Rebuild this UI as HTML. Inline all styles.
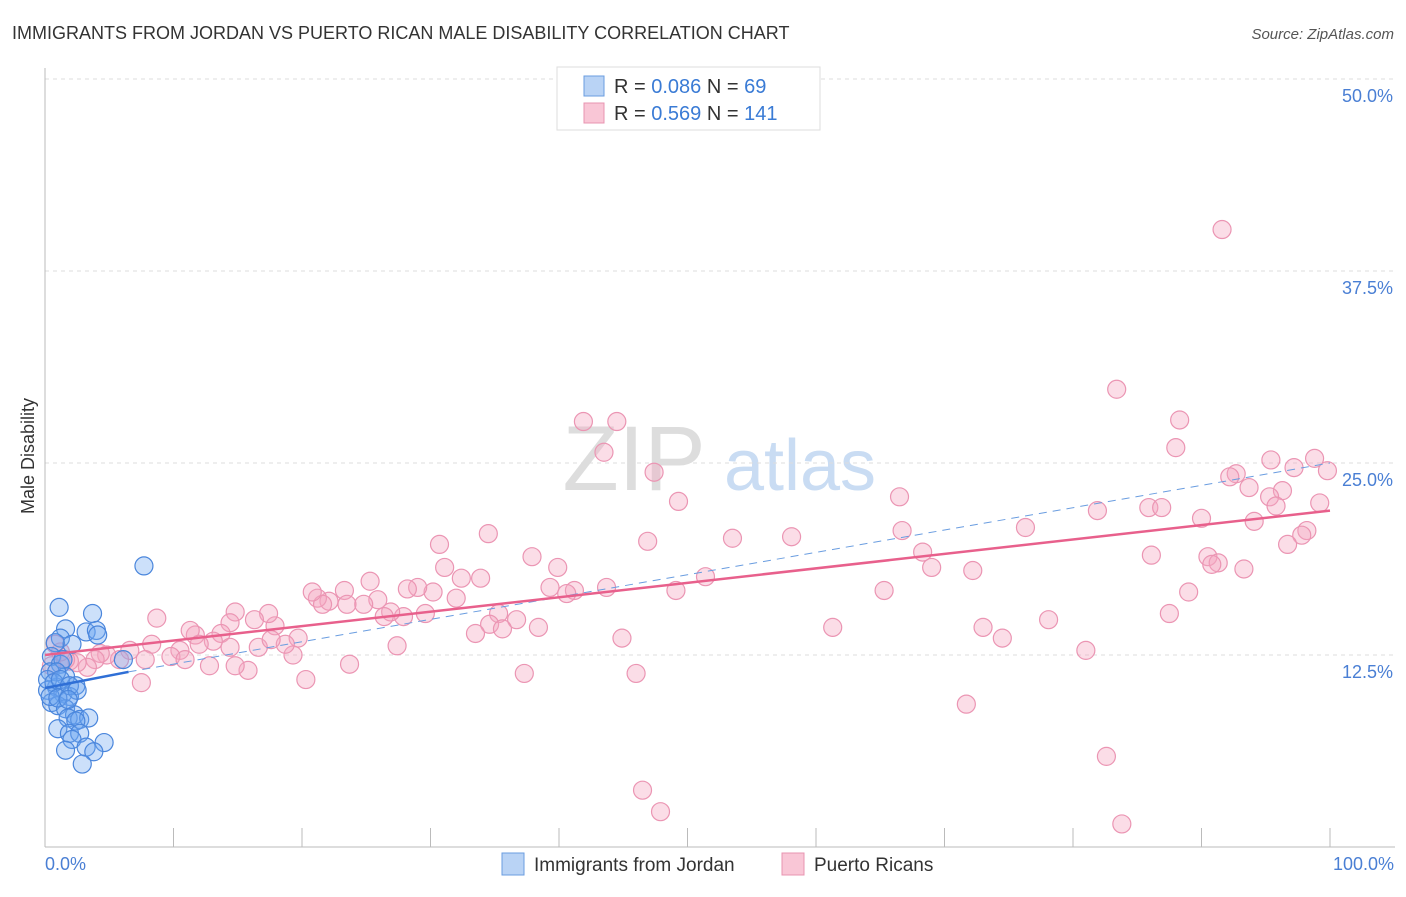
<!DOCTYPE html>
<html><head><meta charset="utf-8"><style>
body{margin:0;background:#fff;font-family:"Liberation Sans",sans-serif;}
svg text{font-family:"Liberation Sans",sans-serif;}
</style></head><body>
<svg id="chart" width="1406" height="892" xmlns="http://www.w3.org/2000/svg">
<text x="12" y="39" font-size="18" fill="#333">IMMIGRANTS FROM JORDAN VS PUERTO RICAN MALE DISABILITY CORRELATION CHART</text>
<text x="1394" y="39" font-size="15" fill="#555" font-style="italic" text-anchor="end">Source: ZipAtlas.com</text>
<text x="634" y="490" font-size="92" fill="#ddd" font-family="Liberation Serif" text-anchor="middle">ZIP</text>
<text x="800" y="490" font-size="72" fill="#c9dcf3" text-anchor="middle">atlas</text>
<g id="grid"></g>
<g id="axes"></g>
<g id="pts"></g>
<g id="lines"></g>
<text transform="translate(34,456) rotate(-90)" font-size="18" fill="#333" text-anchor="middle">Male Disability</text>
<text x="45" y="870" font-size="18" fill="#4a7fd4">0.0%</text>
<text x="1394" y="870" font-size="18" fill="#4a7fd4" text-anchor="end">100.0%</text>
<g>
<rect x="557" y="67" width="263" height="63" fill="#fff" stroke="#ddd"/>
<rect x="584" y="76" width="20" height="20" fill="#b9d3f5" stroke="#6a9de0"/>
<rect x="584" y="103" width="20" height="20" fill="#f9c6d6" stroke="#e894b0"/>
<text x="614" y="93" font-size="20" fill="#333">R = <tspan fill="#3a7bd5">0.086</tspan>   N = <tspan fill="#3a7bd5"> 69</tspan></text>
<text x="614" y="120" font-size="20" fill="#333">R = <tspan fill="#3a7bd5">0.569</tspan>   N = <tspan fill="#3a7bd5">141</tspan></text>
</g>
<g>
<rect x="502" y="853" width="22" height="22" fill="#b9d3f5" stroke="#6a9de0"/>
<text x="534" y="871" font-size="19" fill="#333">Immigrants from Jordan</text>
<rect x="782" y="853" width="22" height="22" fill="#f9c6d6" stroke="#e894b0"/>
<text x="814" y="871" font-size="19" fill="#333">Puerto Ricans</text>
</g>
</svg>
<script>
const yTicks=[12.5,25,37.5,50];
const yTickLabels=["12.5%","25.0%","37.5%","50.0%"];
const blueX=[7.7,1.1,3.7,1.6,3.2,4.0,4.1,1.2,2.1,0.8,6.1,0.5,1.2,0.4,1.6,2.4,0.9,0.2,1.4,1.9,0.5,1.0,1.6,2.3,1.8,2.7,3.4,2.4,1.0,1.9,2.7,2.1,3.2,4.6,3.8,1.6,2.9,1.4,0.9,0.2,0.7,1.2,1.9,0.4,1.0,2.5,1.8];
const blueY=[18.3,15.6,15.2,14.2,14.0,14.1,13.8,13.6,13.2,13.3,12.2,12.4,11.9,11.4,11.1,10.5,10.4,10.2,10.0,9.8,9.4,9.2,9.0,8.6,8.4,8.3,8.4,8.2,7.7,7.4,7.4,7.0,6.5,6.8,6.2,6.3,5.4,12.2,11.4,10.9,10.7,10.9,10.5,9.8,9.7,10.2,9.6];
const pinkX=[91.6,83.4,88.3,88.0,95.4,98.8,97.2,99.8,92.7,92.2,93.7,96.3,95.3,95.8,99.2,85.9,86.9,81.9,90.0,94.1,98.2,97.8,96.7,86.1,90.5,91.3,90.8,93.3,89.0,87.5,78.1,76.3,72.2,69.0,68.3,66.7,66.5,65.3,74.5,73.0,81.0,71.7,82.6,83.8,61.3,58.1,53.5,51.4,49.1,49.3,46.9,47.4,44.5,41.9,43.5,43.7,44.9,46.0,46.5,47.9,41.2,40.6,39.3,39.9,37.9,34.5,30.7,31.1,32.4,33.9,32.0,30.2,29.0,28.2,29.6,27.9,26.9,26.4,25.9,24.8,23.3,25.3,23.5,22.1,21.2,21.6,20.8,35.3,36.7,34.6,35.6,38.4,33.5,37.3,27.4,23.7,20.3,19.7,19.3,18.7,17.9,17.4,16.3,14.8,14.4,13.7,13.1,11.7,11.3,12.0,12.8,10.5,9.8,10.9,8.7,8.3,7.8,7.5,6.6,5.8,4.8,4.3,3.9,3.3,2.5,1.9,1.6,1.2,0.8,0.5,15.8,14.4,16.6,17.6,14.8];
const pinkY=[40.2,29.8,27.8,26.0,25.2,25.3,24.7,24.5,24.3,24.1,23.4,23.2,22.8,22.2,22.4,22.1,22.1,21.9,21.4,21.2,20.6,20.3,19.7,19.0,18.9,18.5,18.4,18.1,16.6,15.2,14.8,20.8,18.0,18.2,19.2,20.6,22.8,16.7,13.6,14.3,12.8,9.3,5.9,1.5,14.3,20.2,20.1,17.6,16.7,22.5,19.9,24.4,27.7,27.7,25.7,16.9,13.6,11.3,3.7,2.3,16.7,16.5,16.9,18.2,18.9,20.4,19.7,18.2,17.5,17.5,16.2,16.6,16.9,16.8,15.2,15.0,15.3,15.0,16.1,15.8,16.7,17.3,15.8,16.0,16.2,15.8,16.6,15.2,14.8,14.5,14.2,14.3,13.9,11.3,13.1,11.9,10.9,13.6,12.5,13.2,14.4,15.2,14.8,15.3,14.6,13.9,13.4,13.8,14.1,13.2,11.8,12.8,12.4,12.2,14.9,13.2,12.2,10.7,12.8,12.2,12.5,12.6,12.2,11.7,12.0,12.1,12.2,12.7,13.2,11.8,11.5,13.0,13.0,13.5,11.8];
const blueTrend=[[0,10.35],[6.5,11.4],[100,25.0]];
const pinkTrend=[[0,12.5],[100,21.9]];
const NS="http://www.w3.org/2000/svg";
const sx=v=>45+v*12.85;
const sy=v=>847-v*15.36;
function mk(tag,attrs,parent){const e=document.createElementNS(NS,tag);for(const k in attrs)e.setAttribute(k,attrs[k]);parent.appendChild(e);return e;}
const grid=document.getElementById('grid'),axes=document.getElementById('axes'),pts=document.getElementById('pts'),lines=document.getElementById('lines');
yTicks.forEach((t,i)=>{
 const g=mk('line',{x1:45,x2:1395,y1:sy(t),y2:sy(t),stroke:'#ddd','stroke-dasharray':'4,4'},grid);
 
 
 const tx=mk('text',{x:1393,y:sy(t)+23,'font-size':18,fill:'#4a7fd4','text-anchor':'end'},grid);
 tx.textContent=yTickLabels[i];
 
 
});
const ya=mk('line',{x1:45,x2:45,y1:68,y2:847,stroke:'#bbb'},axes);


const xa=mk('line',{x1:45,x2:1395,y1:847,y2:847,stroke:'#bbb'},axes);


for(let i=1;i<=10;i++){
 const t=mk('line',{x1:sx(i*10),x2:sx(i*10),y1:828,y2:847,stroke:'#bbb'},axes);
 
 
}
pinkX.forEach((x,i)=>{
 const c=mk('circle',{cx:sx(x),cy:sy(pinkY[i]),r:9,fill:'rgba(244,165,192,0.38)',stroke:'#eb95b3','stroke-width':1.2},pts);
 
 
});
blueX.forEach((x,i)=>{
 const c=mk('circle',{cx:sx(x),cy:sy(blueY[i]),r:9,fill:'rgba(110,165,240,0.35)',stroke:'#4a86dc','stroke-width':1.2},pts);
 
 
});
const bs=mk('line',{x1:sx(blueTrend[0][0]),y1:sy(blueTrend[0][1]),x2:sx(blueTrend[1][0]),y2:sy(blueTrend[1][1]),stroke:'#2f6fd6','stroke-width':2.5},lines);


const bd=mk('line',{x1:sx(blueTrend[1][0]),y1:sy(blueTrend[1][1]),x2:sx(blueTrend[2][0]),y2:sy(blueTrend[2][1]),stroke:'#6a9de0','stroke-width':1,'stroke-dasharray':'8,6'},lines);


const ps=mk('line',{x1:sx(pinkTrend[0][0]),y1:sy(pinkTrend[0][1]),x2:sx(pinkTrend[1][0]),y2:sy(pinkTrend[1][1]),stroke:'#e8608c','stroke-width':2.5},lines);


</script>
</body></html>
